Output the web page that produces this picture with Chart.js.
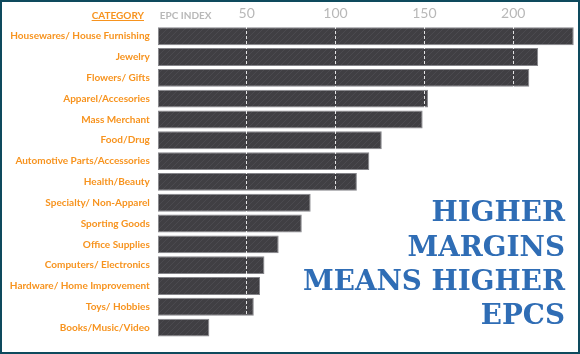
<!DOCTYPE html>
<html>
<head>
<meta charset="utf-8">
<script src="https://cdn.jsdelivr.net/npm/chart.js@4"></script>
<style>
  body { margin: 0; background: #fff; }
  #wrap { width: 580px; height: 354px; box-sizing: border-box; border: 2px solid #0e4a5d; }
  #wrap canvas { display: block; }
</style>
</head>
<body>
<div id="wrap"><canvas id="epcChart" width="576" height="350"></canvas></div>
<script>
// data
const categories = [
  "Housewares/ House Furnishing", "Jewelry", "Flowers/ Gifts", "Apparel/Accesories",
  "Mass Merchant", "Food/Drug", "Automotive Parts/Accessories", "Health/Beauty",
  "Specialty/ Non-Apparel", "Sporting Goods", "Office Supplies", "Computers/ Electronics",
  "Hardware/ Home Improvement", "Toys/ Hobbies", "Books/Music/Video"
];
const epcIndex = [234, 214, 209, 152, 149, 126, 119, 112, 86, 81, 68, 60, 57.5, 54, 29];
const tickValues = [50, 100, 150, 200];
const headline = ["HIGHER", "MARGINS", "MEANS HIGHER", "EPCS"];

const orange = "#f7931e";

// diagonal hatch for the bars
function hatch() {
  const c = document.createElement("canvas");
  c.width = 6; c.height = 6;
  const g = c.getContext("2d");
  g.fillStyle = "#403f43";
  g.fillRect(0, 0, 6, 6);
  g.strokeStyle = "#4b4a4f";
  g.lineWidth = 1;
  g.beginPath();
  g.moveTo(0, 6); g.lineTo(6, 0);
  g.moveTo(-3, 3); g.lineTo(3, -3);
  g.moveTo(3, 9); g.lineTo(9, 3);
  g.stroke();
  return g.createPattern(c, "repeat");
}

// header texts + headline
const extras = {
  id: "extras",
  afterDraw(chart) {
    const ctx = chart.ctx;
    const x0 = chart.scales.x.getPixelForValue(0);
    ctx.save();
    ctx.textBaseline = "middle";
    ctx.font = "bold 10px Lato";
    ctx.fillStyle = orange;
    ctx.textAlign = "right";
    ctx.fillText("CATEGORY", 142, 14);
    const w = ctx.measureText("CATEGORY").width;
    ctx.fillRect(142 - w, 18, w, 1);
    ctx.fillStyle = "#b8b8b8";
    ctx.textAlign = "left";
    ctx.fillText("EPC INDEX", x0 + 2, 14);

    ctx.font = "bold 27px 'DejaVu Serif'";
    ctx.fillStyle = "#2f6db5";
    ctx.textBaseline = "alphabetic";
    const wide = ctx.measureText("MEANS HIGHER").width;
    const sx = 262 / wide;
    ctx.translate(563, 0);
    ctx.scale(sx, 1);
    ctx.textAlign = "right";
    const base = [219, 253.5, 288, 321.5];
    headline.forEach((t, i) => ctx.fillText(t, 0, base[i]));
    ctx.restore();
  }
};

Chart.defaults.font.family = "Lato";

new Chart("epcChart", {
  type: "bar",
  data: {
    labels: categories,
    datasets: [{
      data: epcIndex,
      backgroundColor: hatch(),
      borderColor: "#85858a",
      borderWidth: 1,
      borderSkipped: false,
      barPercentage: 0.86,
      categoryPercentage: 1
    }]
  },
  options: {
    indexAxis: "y",
    responsive: false,
    animation: false,
    layout: { padding: { right: 2.5, bottom: 4.6 } },
    plugins: { legend: { display: false }, tooltip: { enabled: false } },
    scales: {
      x: {
        position: "top",
        min: 0,
        max: 235,
        afterFit: s => { s.height = 23.8; },
        afterBuildTicks: s => { s.ticks = tickValues.map(v => ({ value: v })); },
        ticks: { color: "#b8b8b8", font: { size: 14 }, padding: 4, includeBounds: false },
        grid: { z: 1, color: "rgba(255,255,255,0.85)", drawTicks: false, lineWidth: 1 },
        border: { display: false, dash: [3, 2] }
      },
      y: {
        afterFit: s => { s.width = 155.8; },
        ticks: { color: orange, font: { size: 10, weight: "bold" }, padding: 8 },
        grid: { display: false, drawTicks: false },
        border: { display: false }
      }
    }
  },
  plugins: [extras]
});
</script>
</body>
</html>
